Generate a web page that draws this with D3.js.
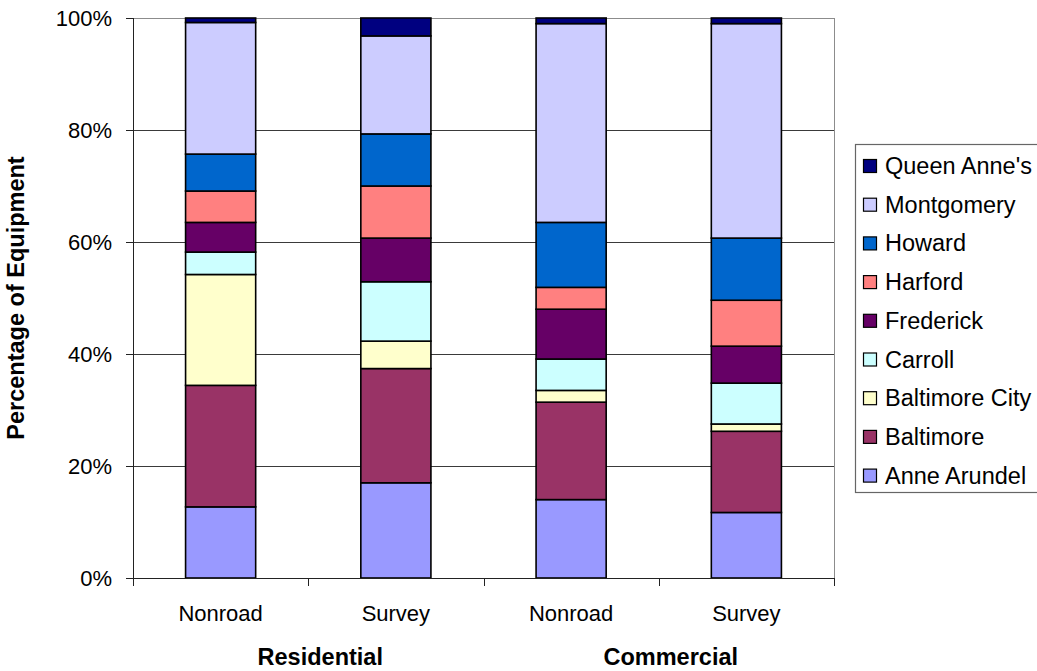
<!DOCTYPE html>
<html>
<head>
<meta charset="utf-8">
<script src="https://cdn.jsdelivr.net/npm/d3@7"></script>
<style>
  html, body { margin: 0; padding: 0; background: #fff; }
  svg { display: block; font-family: "Liberation Sans", Arial, sans-serif; }
</style>
</head>
<body>
<svg id="chart" width="1037" height="671"></svg>
<script>
// ---- data ----
const categories = ["Nonroad", "Survey", "Nonroad", "Survey"];
const groups = ["Residential", "Commercial"];
const seriesNames = ["Anne Arundel", "Baltimore", "Baltimore City", "Carroll", "Frederick", "Harford", "Howard", "Montgomery", "Queen Anne's"];
const seriesColors = ["#9999FF", "#993366", "#FFFFCC", "#CCFFFF", "#660066", "#FF8080", "#0066CC", "#CCCCFF", "#000080"];
const anneArundel   = [12.7, 17.0, 14.0, 11.7];
const baltimore     = [21.7, 20.4, 17.4, 14.5];
const baltimoreCity = [19.8, 4.9, 2.1, 1.3];
const carroll       = [4.0, 10.6, 5.6, 7.3];
const frederick     = [5.3, 7.8, 8.9, 6.6];
const harford       = [5.6, 9.3, 3.9, 8.2];
const howard        = [6.6, 9.3, 11.6, 11.1];
const montgomery    = [23.5, 17.5, 35.5, 38.3];
const queenAnnes    = [0.8, 3.2, 1.0, 1.0];
const yTicks = [0, 20, 40, 60, 80, 100];

const seriesValues = [anneArundel, baltimore, baltimoreCity, carroll, frederick, harford, howard, montgomery, queenAnnes];

// table for d3.stack
const rows = categories.map((c, i) => {
  const r = { idx: i, cat: c };
  seriesNames.forEach((s, k) => { r[s] = seriesValues[k][i]; });
  return r;
});

const svg = d3.select("#chart");
const pLeft = 133, pRight = 834, pTop = 18, pBottom = 578;

const x = d3.scaleBand().domain(d3.range(categories.length))
  .range([pLeft, pRight]).paddingInner(0.6).paddingOuter(0.3);
const y = d3.scaleLinear().domain([0, 100]).range([pBottom, pTop]);

// plot area border
svg.append("rect").attr("x", pLeft + 0.5).attr("y", pTop + 0.5)
  .attr("width", pRight - pLeft).attr("height", pBottom - pTop)
  .attr("fill", "none").attr("stroke", "#8c8c8c").attr("stroke-width", 1);

// gridlines
svg.append("g").selectAll("line").data(yTicks.filter(t => t > 0 && t < 100)).join("line")
  .attr("x1", pLeft).attr("x2", pRight)
  .attr("y1", d => Math.round(y(d)) + 0.5).attr("y2", d => Math.round(y(d)) + 0.5)
  .attr("stroke", "#3a3a3a").attr("stroke-width", 1);

// bars
const stack = d3.stack().keys(seriesNames);
const stacked = stack(rows);
svg.append("g").selectAll("g").data(stacked).join("g")
  .attr("fill", (d, i) => seriesColors[i])
  .selectAll("rect").data(d => d).join("rect")
  .attr("x", d => x(d.data.idx))
  .attr("width", x.bandwidth())
  .attr("y", d => y(d[1]))
  .attr("height", d => y(d[0]) - y(d[1]))
  .attr("stroke", "#000").attr("stroke-width", 1.6);

// y axis
const yAxis = d3.axisLeft(y).tickValues(yTicks).tickFormat(d => d + "%")
  .tickSize(7).tickPadding(14);
const gy = svg.append("g").attr("transform", `translate(${pLeft},0)`).call(yAxis);
gy.select(".domain").attr("stroke", "#222").attr("d", `M0.5,${pTop}V${pBottom + 8}`);
gy.selectAll(".tick line").attr("stroke", "#222");
gy.selectAll(".tick text").attr("font-size", 22).attr("fill", "#000")
  .attr("font-family", "Liberation Sans, Arial, sans-serif");

// x axis line and ticks at category boundaries
const step = x.step();
const firstStart = x(0) - step * x.paddingInner() / 2;
const boundaries = d3.range(categories.length + 1).map(i => firstStart + i * step);
svg.append("line").attr("x1", pLeft).attr("x2", pRight)
  .attr("y1", pBottom + 0.5).attr("y2", pBottom + 0.5).attr("stroke", "#222");
svg.append("g").selectAll("line").data(boundaries).join("line")
  .attr("x1", d => Math.round(d) + 0.5).attr("x2", d => Math.round(d) + 0.5)
  .attr("y1", pBottom).attr("y2", pBottom + 8).attr("stroke", "#222");

// category labels
svg.append("g").selectAll("text").data(categories).join("text")
  .attr("x", (d, i) => x(i) + x.bandwidth() / 2)
  .attr("y", 621)
  .attr("text-anchor", "middle").attr("font-size", 22).attr("fill", "#000")
  .text(d => d);

// group labels
svg.append("g").selectAll("text").data(groups).join("text")
  .attr("x", (d, i) => (x(i * 2) + x(i * 2 + 1) + x.bandwidth()) / 2 + 12)
  .attr("y", 665)
  .attr("text-anchor", "middle").attr("font-size", 23.5).attr("font-weight", "bold").attr("fill", "#000")
  .text(d => d);

// y title
svg.append("text")
  .attr("transform", `translate(24,${(pTop + pBottom) / 2}) rotate(-90)`)
  .attr("text-anchor", "middle").attr("font-size", 23.5).attr("font-weight", "bold")
  .text("Percentage of Equipment");

// legend
const lg = svg.append("g");
lg.append("rect").attr("x", 855.5).attr("y", 144.5).attr("width", 200).attr("height", 348)
  .attr("fill", "#fff").attr("stroke", "#666").attr("stroke-width", 1.2);
const legendItems = seriesNames.map((s, i) => ({ name: s, color: seriesColors[i] })).reverse();
const li = lg.selectAll("g.item").data(legendItems).join("g").attr("class", "item")
  .attr("transform", (d, i) => `translate(0,${166 + i * 38.7})`);
li.append("rect").attr("x", 863.5).attr("y", -6.5).attr("width", 13).attr("height", 13)
  .attr("fill", d => d.color).attr("stroke", "#000").attr("stroke-width", 1.2);
li.append("text").attr("x", 885).attr("y", 8).attr("font-size", 23.5).attr("fill", "#000")
  .text(d => d.name);
</script>
</body>
</html>
